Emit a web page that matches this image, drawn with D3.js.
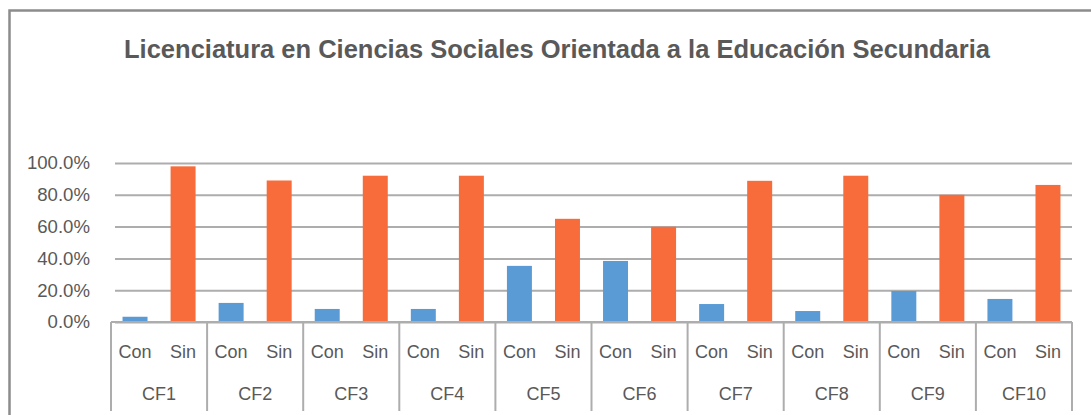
<!DOCTYPE html>
<meta charset="utf-8">
<script src="https://cdn.jsdelivr.net/npm/d3@7"></script>
<style>
  body { margin: 0; background: #fff; }
  text { font-family: "Liberation Sans", Arial, sans-serif; fill: #595959; }
</style>
<body>
<script>

// data
var groups = ["CF1", "CF2", "CF3", "CF4", "CF5", "CF6", "CF7", "CF8", "CF9", "CF10"];
var subLabels = ["Con", "Sin"];
var conValues = [0.033, 0.120, 0.082, 0.082, 0.353, 0.384, 0.113, 0.069, 0.195, 0.145];
var sinValues = [0.979, 0.890, 0.920, 0.920, 0.649, 0.599, 0.888, 0.920, 0.800, 0.862];
var yTicks = [0, 0.2, 0.4, 0.6, 0.8, 1.0];
var title = "Licenciatura en Ciencias Sociales Orientada a la Educación Secundaria";

var colors = {Con: "#5B9BD5", Sin: "#F76C3A"};

var W = 1091, H = 415;
var plot = {left: 111, right: 1072, top: 163, bottom: 322};

var svg = d3.select("body").append("svg")
    .attr("width", W)
    .attr("height", H);

// outer frame (only left and top edges are visible in the crop)
svg.append("path")
    .attr("d", "M9.5," + (H + 5) + "V10.5H" + (W + 5))
    .style("fill", "none")
    .style("stroke", "#8C8C8C")
    .style("stroke-width", 2.5);

// title
svg.append("text")
    .attr("x", 557)
    .attr("y", 58)
    .style("text-anchor", "middle")
    .style("font-weight", "bold")
    .style("font-size", "25.5px")
    .text(title);

// scales
var x0 = d3.scaleBand()
    .domain(groups)
    .range([plot.left, plot.right]);

var x1 = d3.scaleBand()
    .domain(subLabels)
    .range([0, x0.bandwidth()])
    .paddingInner(0.48)
    .paddingOuter(0.24);

var yScale = d3.scaleLinear()
    .domain([0, 1])
    .range([plot.bottom, plot.top]);

// gridlines + y labels
var yAxis = d3.axisLeft(yScale)
    .tickValues(yTicks)
    .tickFormat(d3.format(".1%"))
    .tickSize(-(plot.right - plot.left - 4))
    .tickPadding(25);

var yAxisGroup = svg.append("g")
    .attr("transform", "translate(" + (plot.left + 4) + ",0)")
    .call(yAxis);

yAxisGroup.select(".domain").remove();
yAxisGroup.selectAll(".tick line")
    .style("stroke", "#ADADAD")
    .style("stroke-width", 2);
yAxisGroup.selectAll(".tick text")
    .style("font-size", "18.6px")
    .style("fill", "#595959");

// bars
var rows = groups.map((g, i) => ({group: g, Con: conValues[i], Sin: sinValues[i]}));

var groupSel = svg.selectAll(".grp")
    .data(rows)
    .enter()
    .append("g")
        .attr("class", "grp")
        .attr("transform", d => "translate(" + x0(d.group) + ",0)");

groupSel.selectAll("rect")
    .data(d => subLabels.map(k => ({key: k, value: d[k]})))
    .enter()
    .append("rect")
        .attr("x", d => x1(d.key))
        .attr("width", x1.bandwidth())
        .attr("y", d => yScale(d.value))
        .attr("height", d => yScale(0) - yScale(d.value))
        .style("fill", d => colors[d.key]);

// x axis line
svg.append("line")
    .attr("x1", plot.left)
    .attr("x2", plot.right)
    .attr("y1", yScale(0))
    .attr("y2", yScale(0))
    .style("stroke", "#ADADAD")
    .style("stroke-width", 2);

// category dividers
var edges = groups.map(g => x0(g)).concat([plot.right]);
svg.selectAll(".divider")
    .data(edges)
    .enter()
    .append("line")
        .attr("class", "divider")
        .attr("x1", d => d)
        .attr("x2", d => d)
        .attr("y1", yScale(0))
        .attr("y2", 411)
        .style("stroke", "#ADADAD")
        .style("stroke-width", 2);

// sub labels (Con / Sin)
groupSel.selectAll(".sub")
    .data(subLabels)
    .enter()
    .append("text")
        .attr("class", "sub")
        .attr("x", d => x1(d) + x1.bandwidth() / 2)
        .attr("y", 358)
        .style("text-anchor", "middle")
        .style("font-size", "18px")
        .text(d => d);

// group labels
groupSel.append("text")
    .attr("x", x0.bandwidth() / 2)
    .attr("y", 400)
    .style("text-anchor", "middle")
    .style("font-size", "18px")
    .text(d => d.group);

</script>
</body>
